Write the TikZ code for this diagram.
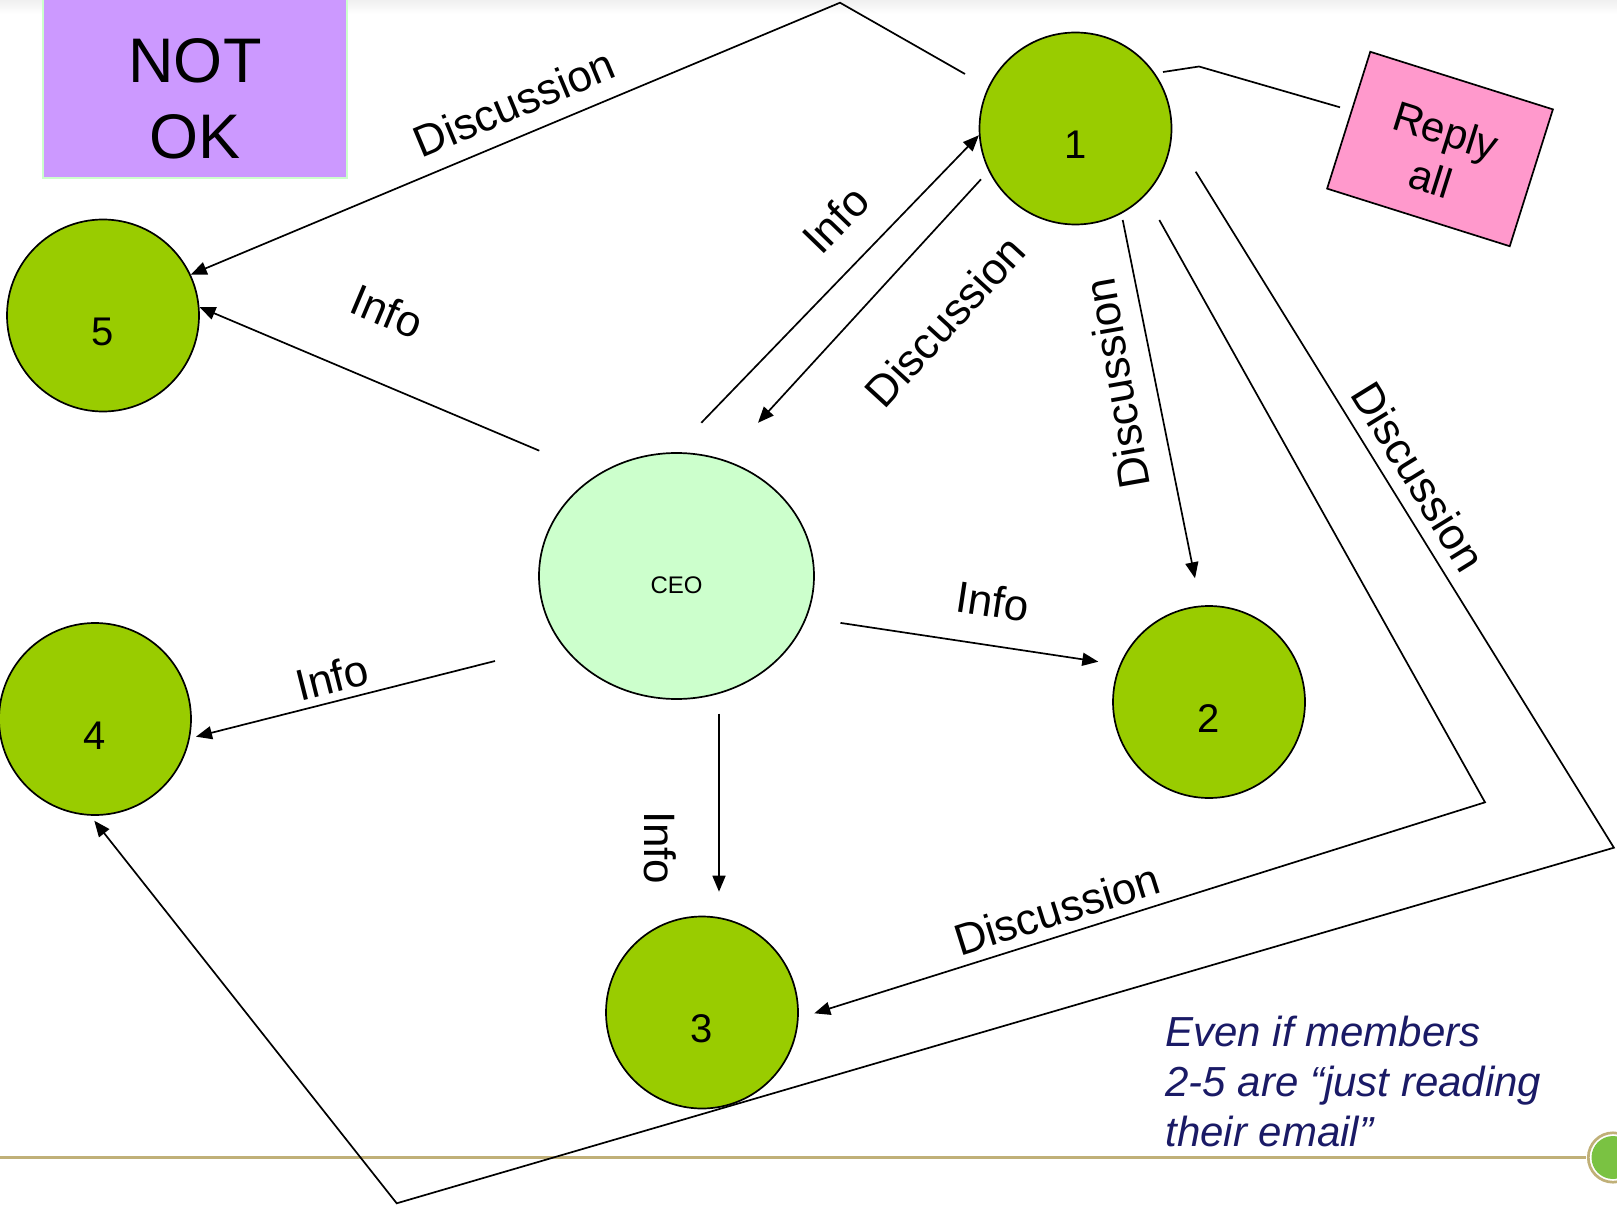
\documentclass[tikz,border=0pt]{standalone}
\usepackage{fontspec}
\setmainfont{Liberation Sans}
\usetikzlibrary{arrows.meta,shapes.geometric}
\definecolor{nodegreen}{RGB}{153,204,0}
\definecolor{ceogreen}{RGB}{204,255,204}
\definecolor{notokfill}{RGB}{204,153,255}
\definecolor{replypink}{RGB}{255,153,204}
\definecolor{notenavy}{RGB}{26,26,102}
\definecolor{ruletan}{RGB}{192,176,120}
\definecolor{dotgreen}{RGB}{122,194,66}
\begin{document}
\begin{tikzpicture}[x=0.5pt,y=-0.5pt,
  member/.style={circle, draw=black, line width=0.85pt, fill=nodegreen, minimum size=96pt, inner sep=0pt,
    font=\fontsize{20}{24}\selectfont, execute at begin node={\rule{0pt}{30.2pt}}},
  ceobox/.style={ellipse, draw=black, line width=0.85pt, fill=ceogreen, minimum width=137.5pt, minimum height=123pt,
    inner sep=0pt, font=\fontsize{12}{14}\selectfont},
  replybox/.style={rectangle, draw=black, line width=0.85pt, fill=replypink, rotate=-17.5, minimum width=95.75pt,
    minimum height=71.75pt, inner sep=0pt, align=center, font=\fontsize{21}{25}\selectfont},
  conn/.style={line width=0.85pt, line join=miter},
  arr/.style={conn, -{Triangle[length=8pt,width=6.5pt]}},
  lbl/.style={font=\fontsize{22}{26}\selectfont, inner sep=0pt}]
\useasboundingbox (0,0) rectangle (1617,1209);
\shade[top color=black!6, bottom color=white] (0,0) rectangle (1617,14);

% NOT OK box
\path[draw=ceogreen, line width=1pt, fill=notokfill] (43,-2) rectangle (347,178);
\node[font=\fontsize{31.5}{38}\selectfont, align=center, inner sep=0pt] (notok) at (195,99.25) {NOT\\OK};

% footer rule
\draw[ruletan, line width=1.35pt] (0,1157.3) -- (1586,1157.3);
\draw[ruletan, line width=1.35pt] (1613,1157.5) circle[radius=24.7];
\fill[dotgreen] (1613,1157.5) circle[radius=21.5];

% nodes
\node[member] (n1) at (1075.5,128.5) {1};
\node[member] (n2) at (1209,702) {2};
\node[member] (n3) at (702,1012.5) {3};
\node[member] (n4) at (95,719) {4};
\node[member] (n5) at (103,315.5) {5};
\node[ceobox] (ceo) at (676.5,576) {\rule{0pt}{17.6pt}CEO};
\node[replybox] (reply) at (1440,149) {\rule{0pt}{21pt}Reply\\all};

% connector end points
\coordinate (s15) at ([shift={(-110.5,-54.5)}]n1.center);
\coordinate (s1r) at ([shift={(87.5,-56.5)}]n1.center);
\coordinate (s1c) at ([shift={(-94.5,50.8)}]n1.center);
\coordinate (s12) at ([shift={(47.2,91.5)}]n1.center);
\coordinate (s13) at ([shift={(83.8,91.5)}]n1.center);
\coordinate (s14) at ([shift={(120.2,43.2)}]n1.center);
\coordinate (sc5) at ([shift={(-137.2,-125.3)}]ceo.center);
\coordinate (sc1) at ([shift={(24.8,-153.2)}]ceo.center);
\coordinate (t1c) at ([shift={(81.5,-153.2)}]ceo.center);
\coordinate (sc2) at ([shift={(164,46.9)}]ceo.center);
\coordinate (sc3) at ([shift={(42.5,137.6)}]ceo.center);
\coordinate (sc4) at ([shift={(-181.5,85)}]ceo.center);
\coordinate (t12) at ([shift={(-14,-123.7)}]n2.center);
\coordinate (tc2) at ([shift={(-110.7,-40.3)}]n2.center);
\coordinate (tc3) at ([shift={(17,-120.8)}]n3.center);
\coordinate (t13) at ([shift={(112.3,0.8)}]n3.center);
\coordinate (tc4) at ([shift={(101,17.7)}]n4.center);
\coordinate (t14) at ([shift={(-0.7,101.7)}]n4.center);
\coordinate (e1r) at ([shift={(-100,-41.7)}]reply.center);
\coordinate (k15) at (840,2.7);
\coordinate (k1r) at (1199,66.5);
\coordinate (k13) at (1485,802.3);
\coordinate (k14a) at (1613.9,847.7);
\coordinate (k14b) at (396.7,1203.3);

% connectors
\draw[arr] (s15) -- (k15) -- (n5.25);
\draw[conn] (s1r) -- (k1r) -- (e1r);
\draw[arr] (sc5) -- (n5.5);
\draw[arr] (sc1) -- (n1.184);
\draw[arr] (s1c) -- (t1c);
\draw[arr] (s12) -- (t12);
\draw[arr] (s13) -- (k13) -- (t13);
\draw[arr] (s14) -- (k14a) -- (k14b) -- (t14);
\draw[arr] (sc2) -- (tc2);
\draw[arr] (sc3) -- (tc3);
\draw[arr] (sc4) -- (tc4);

% labels
\node[lbl, rotate=22.7] (lab1) at (514,103) {Discussion};
\node[lbl, rotate=-22.9] (lab2) at (387,311.5) {Info};
\node[lbl, rotate=46] (lab3) at (835.3,219.5) {Info};
\node[lbl, rotate=47.5] (lab4) at (945,321) {Discussion};
\node[lbl, rotate=100] (lab5) at (1116.8,383.6) {Discussion};
\node[lbl, rotate=-58.3] (lab6) at (1418.5,476.4) {Discussion};
\node[lbl, rotate=-8.6] (lab7) at (993,601.2) {Info};
\node[lbl, rotate=-90] (lab8) at (660.5,847.7) {Info};
\node[lbl, rotate=14.2] (lab9) at (332,677.5) {Info};
\node[lbl, rotate=17.5] (lab10) at (1057,909.4) {Discussion};

% note
\node[anchor=base west, align=left, font=\fontsize{21}{25}\itshape\selectfont, text=notenavy, inner sep=0pt] (note)
  at (1165,1146.7) {Even if members\\2-5 are “just reading\\their email”};
\end{tikzpicture}
\end{document}
